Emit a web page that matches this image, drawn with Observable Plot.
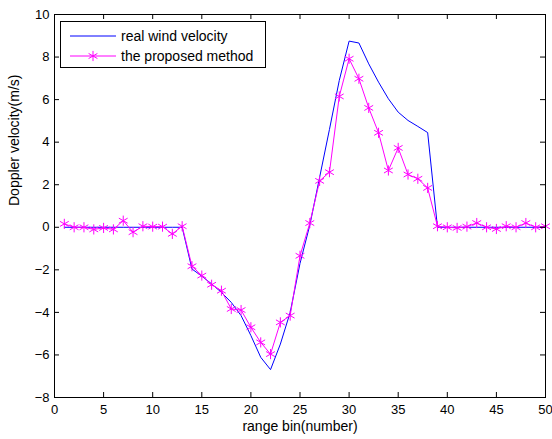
<!DOCTYPE html>
<html><head><meta charset="utf-8">
<script src="https://cdn.jsdelivr.net/npm/d3@7"></script>
<script src="https://cdn.jsdelivr.net/npm/@observablehq/plot@0.6"></script>
<style>
body{margin:0;background:#fff;}
#wrap{position:relative;width:552px;height:439px;font-family:"Liberation Sans",Arial,sans-serif;}
#legend{position:absolute;left:60px;top:21px;width:206px;height:47px;border:1px solid #000;background:#fff;box-sizing:border-box;font-size:14px;}
#legend .item{position:absolute;left:0;height:20px;display:flex;align-items:center;}
#legend svg{display:block;margin-left:9px;margin-right:5px;}
</style></head><body><div id="wrap"></div>
<script>
const bins = [1,2,3,4,5,6,7,8,9,10,11,12,13,14,15,16,17,18,19,20,21,22,23,24,25,26,27,28,29,30,31,32,33,34,35,36,37,38,39,40,41,42,43,44,45,46,47,48,49,50];
const realWind = [0,0,0,0,0,0,0,0,0,0,0,0,0,
  -1.96,-2.3,-2.66,-3.06,-3.53,-4.15,-5.09,-6.11,-6.69,-5.49,-4.0,-1.7,0.1,
  2.35,4.6,6.9,8.75,8.66,7.68,6.82,6.04,5.41,5.02,4.74,4.45,
  0,0,0,0,0,0,0,0,0,0,0,0];
const proposed = [0.16,0,0,-0.1,-0.03,-0.1,0.31,-0.23,0.05,0.03,0.03,-0.31,0.05,
  -1.83,-2.27,-2.7,-2.98,-3.84,-3.89,-4.7,-5.41,-5.96,-4.47,-4.15,-1.34,
  0.2,2.18,2.59,6.15,7.92,6.98,5.61,4.44,2.67,3.73,2.48,2.28,1.85,
  0.05,0,-0.03,0.03,0.2,0,-0.08,0.05,0,0.2,0,0.05];
const xTicks = [0,5,10,15,20,25,30,35,40,45,50];
const yTicks = [-8,-6,-4,-2,0,2,4,6,8,10];
const xLabel = "range bin(number)";
const yLabel = "Doppler velocity(m/s)";
const seriesNames = ["real wind velocity","the proposed method"];
const seriesColors = ["#0000ff","#ff00ff"];

const data = bins.map((b,i)=>({bin:b, real:realWind[i], proposed:proposed[i]}));
const W=552,H=439,mL=54,mR=7,mT=14,mB=42;
const pw=W-mL-mR, ph=H-mT-mB, tk=5;

const chart = Plot.plot({
  width:W, height:H, marginLeft:mL, marginRight:mR, marginTop:mT, marginBottom:mB,
  style:{fontFamily:"'Liberation Sans', Arial, sans-serif", fontSize:"13px", background:"#fff", color:"#000", overflow:"visible"},
  x:{domain:[0,50]},
  y:{domain:[-8,10]},
  marks:[
    Plot.line(data,{x:"bin", y:"real", stroke:seriesColors[0], strokeWidth:1}),
    Plot.line(data,{x:"bin", y:"proposed", stroke:seriesColors[1], strokeWidth:1}),
    Plot.dot(data,{x:"bin", y:"proposed", symbol:"asterisk", r:4.8, stroke:seriesColors[1], strokeWidth:1}),
    Plot.tickX(xTicks,{x:d=>d, stroke:"#000", insetTop:ph-tk}),
    Plot.tickX(xTicks,{x:d=>d, stroke:"#000", insetBottom:ph-tk}),
    Plot.tickY(yTicks,{y:d=>d, stroke:"#000", insetRight:pw-tk}),
    Plot.tickY(yTicks,{y:d=>d, stroke:"#000", insetLeft:pw-tk}),
    Plot.frame({stroke:"#000"}),
    Plot.axisX(xTicks,{anchor:"bottom", tickSize:0, tickPadding:7, fontSize:13, label:null}),
    Plot.axisY(yTicks,{anchor:"left", tickSize:0, tickPadding:5, fontSize:13, label:null}),
    Plot.text([xLabel],{text:d=>d, frameAnchor:"bottom", dy:33, fontSize:14, fill:"#000"}),
    Plot.text([yLabel],{text:d=>d, frameAnchor:"left", dx:-40, rotate:-90, fontSize:14, fill:"#000"})
  ]
});
const wrap = document.getElementById("wrap");
wrap.appendChild(chart);

const legend = document.createElement("div");
legend.id = "legend";
const star = d3.symbol(d3.symbolAsterisk, Math.PI*4.8*4.8)();
seriesNames.forEach((name,i)=>{
  const item = document.createElement("div");
  item.className = "item";
  item.style.top = (i===0 ? 4 : 24) + "px";
  item.innerHTML = `<svg width="46" height="20"><line x1="0" x2="46" y1="10" y2="10" stroke="${seriesColors[i]}" stroke-width="1"/>` +
    (i===1 ? `<path d="${star}" transform="translate(23,10)" fill="none" stroke="${seriesColors[i]}"/>` : "") +
    `</svg><span>${name}</span>`;
  legend.appendChild(item);
});
wrap.appendChild(legend);
</script>
</body></html>
